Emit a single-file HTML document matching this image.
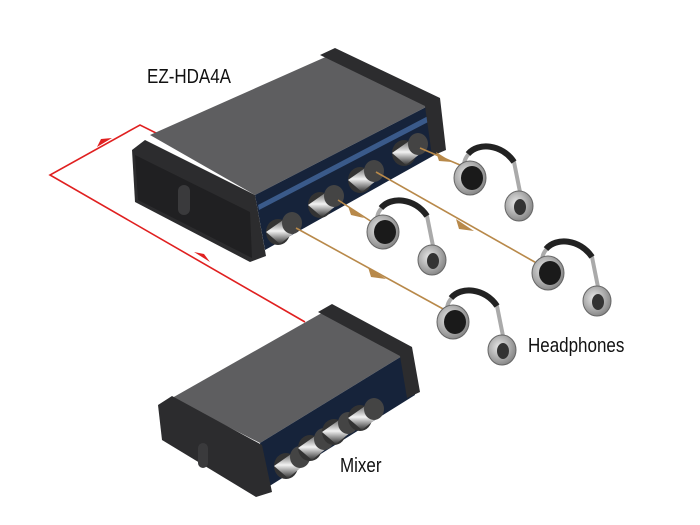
<!DOCTYPE html>
<html><head><meta charset="utf-8"><style>
html,body{margin:0;padding:0;background:#fff;}
svg{display:block}
text{font-family:"Liberation Sans Narrow","Liberation Sans",sans-serif;}
</style></head><body>
<svg width="700" height="525" viewBox="0 0 700 525" xmlns="http://www.w3.org/2000/svg">
<defs>
<radialGradient id="cup" cx="0.4" cy="0.4" r="0.7"><stop offset="0" stop-color="#e8e8e8"/><stop offset="1" stop-color="#7a7a7a"/></radialGradient>
<linearGradient id="knob" x1="0" y1="0" x2="0" y2="1"><stop offset="0" stop-color="#555"/><stop offset="0.5" stop-color="#f2f2f2"/><stop offset="1" stop-color="#333"/></linearGradient>
<g id="hp">
  <path d="M-6,-12 C-6,-34 30,-38 44,-16 L50,14" fill="none" stroke="#aaa" stroke-width="4"/>
  <path d="M-2,-24 C8,-36 32,-34 44,-16" fill="none" stroke="#222" stroke-width="6"/>
  <ellipse cx="49" cy="28" rx="14" ry="15" fill="url(#cup)" stroke="#666"/>
  <ellipse cx="50" cy="29" rx="6" ry="8" fill="#333"/>
  <ellipse cx="0" cy="0" rx="16" ry="17" fill="url(#cup)" stroke="#666"/>
  <ellipse cx="2" cy="0" rx="11" ry="12" fill="#1a1a1a"/>
</g>
<g id="kn">
  <ellipse cx="0" cy="0" rx="12" ry="13" fill="#333"/>
  <path d="M-12,0 L8,-14 L22,-4 L2,12 Z" fill="url(#knob)"/>
  <ellipse cx="14" cy="-9" rx="10" ry="11" fill="#444"/>
</g>
</defs>

<polyline points="160,135 140,125 50,175 305,322" fill="none" stroke="#e02020" stroke-width="1.6"/>
<polygon points="112,138 97,147 101,139" fill="#e02020"/>
<polygon points="194,252 210,262 204,254" fill="#e02020"/>

<polygon points="150,135 330,55 430,105 255,195" fill="#5e5e60"/>
<polygon points="255,195 430,105 440,152 265,250" fill="#16233a"/>
<polygon points="258,205 430,115 432,120 259,210" fill="#3a5a8a"/>
<polygon points="132,150 145,140 255,195 266,256 250,262 135,202" fill="#2c2c2e"/>
<polygon points="135,155 250,212 252,258 138,200" fill="#202022"/>
<rect x="178" y="185" width="12" height="30" rx="6" fill="#3a3a3c"/>
<polygon points="320,55 335,48 440,98 446,150 432,156 425,106" fill="#2c2c2e"/>
<use href="#kn" x="278" y="232"/>
<use href="#kn" x="320" y="205"/>
<use href="#kn" x="360" y="180"/>
<use href="#kn" x="404" y="153"/>

<polygon points="172,398 327,310 407,353 260,443" fill="#5e5e60"/>
<polygon points="260,443 407,353 415,395 268,487" fill="#16233a"/>
<polygon points="158,405 172,396 262,445 272,492 256,497 162,440" fill="#2c2c2e"/>
<rect x="198" y="443" width="10" height="25" rx="5" fill="#3a3a3c"/>
<polygon points="318,312 332,304 412,347 420,392 407,398 400,356" fill="#2c2c2e"/>
<use href="#kn" x="286" y="466"/>
<use href="#kn" x="310" y="448"/>
<use href="#kn" x="334" y="432"/>
<use href="#kn" x="360" y="418"/>

<g stroke="#b8894a" stroke-width="1.6" fill="none">
<line x1="296" y1="228" x2="445" y2="310"/>
<line x1="338" y1="200" x2="372" y2="222"/>
<line x1="376" y1="172" x2="540" y2="265"/>
<line x1="420" y1="148" x2="460" y2="165"/>
</g>
<g fill="#b8894a">
<polygon points="386,279 368,267 371,277"/>
<polygon points="364,218 348,206 351,215"/>
<polygon points="474,231 456,219 459,229"/>
<polygon points="452,162 436,152 439,161"/>
</g>

<use href="#hp" x="470" y="178"/>
<use href="#hp" x="383" y="232"/>
<use href="#hp" x="548" y="273"/>
<use href="#hp" x="453" y="322"/>

<text x="147" y="83" font-size="20" fill="#111" transform="translate(147,0) scale(0.85,1) translate(-147,0)">EZ-HDA4A</text>
<text x="528" y="352" font-size="20" fill="#111" transform="translate(528,0) scale(0.85,1) translate(-528,0)">Headphones</text>
<text x="340" y="472" font-size="20" fill="#111" transform="translate(340,0) scale(0.85,1) translate(-340,0)">Mixer</text>
</svg>
</body></html>
